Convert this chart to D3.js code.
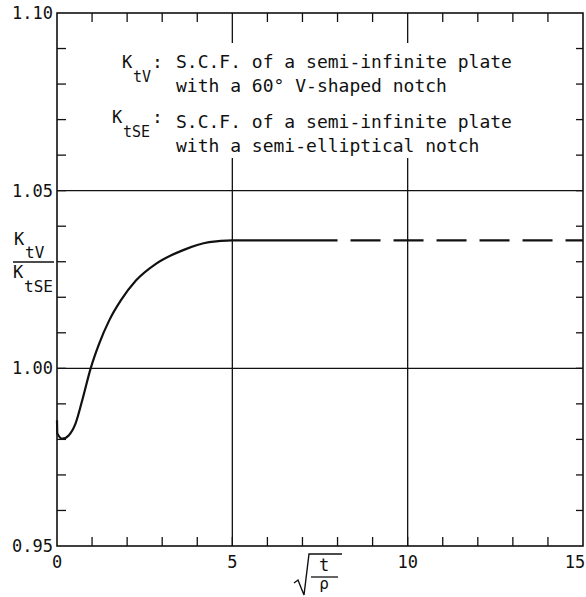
<!DOCTYPE html>
<html>
<head>
<meta charset="utf-8">
<script src="https://cdn.jsdelivr.net/npm/d3@7"></script>
<style>
  html, body { margin: 0; padding: 0; background: #fff; }
  svg { display: block; }
  text { font-family: "DejaVu Sans Mono", "Liberation Mono", monospace; fill: #111; }
</style>
</head>
<body>
<svg id="chart" width="586" height="597"></svg>
<script>
// ---- data ----
const xDomain = [0, 15];
const yDomain = [0.95, 1.10];
const xTickLabels = [0, 5, 10, 15];
const yTickLabels = [0.95, 1.00, 1.05, 1.10];
const xMinorTicks = [1, 2, 3, 4, 5, 6, 7, 8, 9, 10, 11, 12, 13, 14];
const yMinorTicks = [0.96, 0.97, 0.98, 0.99, 1.00, 1.01, 1.02, 1.03, 1.04, 1.05, 1.06, 1.07, 1.08, 1.09];
const gridX = [5, 10];
const gridY = [1.00, 1.05];
// solid computed curve
const curveX = [0, 0.01, 0.15, 0.34, 0.53, 0.72, 0.96, 1.2, 1.49, 1.82, 2.25, 2.82, 3.58, 4.34, 5.0, 6.5, 8.0];
const curveY = [0.9854, 0.9817, 0.9802, 0.9812, 0.9845, 0.991, 1.000, 1.0069, 1.0135, 1.0191, 1.0247, 1.0294, 1.0332, 1.0355, 1.036, 1.036, 1.036];
// dashed extrapolation
const dashX = [8.0, 15];
const dashY = [1.036, 1.036];

// ---- layout ----
const svg = d3.select("#chart");
const L = 57, R = 583, T = 13, B = 546;
const x = d3.scaleLinear().domain(xDomain).range([L, R]);
const y = d3.scaleLinear().domain(yDomain).range([B, T]);
const ink = "#111";

// frame
svg.append("rect").attr("x", L).attr("y", T).attr("width", R - L).attr("height", B - T)
  .attr("fill", "none").attr("stroke", ink).attr("stroke-width", 1.6);

// horizontal grid lines
svg.selectAll(".gy").data(gridY).enter().append("line")
  .attr("x1", L).attr("x2", R).attr("y1", d => y(d)).attr("y2", d => y(d))
  .attr("stroke", ink).attr("stroke-width", 1.3);

// vertical grid lines (interrupted by the legend)
svg.selectAll(".gx").data(gridX).enter().append("line")
  .attr("x1", d => x(d)).attr("x2", d => x(d)).attr("y1", 158).attr("y2", B)
  .attr("stroke", ink).attr("stroke-width", 1.3);

// minor ticks, inward
const tl = 9;
svg.selectAll(".tb").data(xMinorTicks).enter().append("line")
  .attr("x1", d => x(d)).attr("x2", d => x(d)).attr("y1", B).attr("y2", B - tl)
  .attr("stroke", ink).attr("stroke-width", 1.3);
svg.selectAll(".tt").data(xMinorTicks).enter().append("line")
  .attr("x1", d => x(d)).attr("x2", d => x(d)).attr("y1", T)
  .attr("y2", d => gridX.includes(d) ? T + 30 : T + tl)
  .attr("stroke", ink).attr("stroke-width", 1.3);
svg.selectAll(".tlft").data(yMinorTicks).enter().append("line")
  .attr("x1", L).attr("x2", L + tl).attr("y1", d => y(d)).attr("y2", d => y(d))
  .attr("stroke", ink).attr("stroke-width", 1.3);
svg.selectAll(".trgt").data(yMinorTicks).enter().append("line")
  .attr("x1", R).attr("x2", R - 7).attr("y1", d => y(d)).attr("y2", d => y(d))
  .attr("stroke", ink).attr("stroke-width", 1.3);

// tick labels
svg.selectAll(".yl").data(yTickLabels).enter().append("text")
  .attr("x", L - 4).attr("y", d => y(d)).attr("dy", "0.35em")
  .attr("text-anchor", "end").attr("font-size", 17)
  .text(d => d3.format(".2f")(d));
svg.selectAll(".xl").data(xTickLabels).enter().append("text")
  .attr("x", d => d === 15 ? x(d) - 8 : x(d)).attr("y", B + 22)
  .attr("text-anchor", "middle").attr("font-size", 17)
  .text(d => d);

// curves
const line = d3.line().x(d => x(d[0])).y(d => y(d[1])).curve(d3.curveMonotoneX);
svg.append("path").datum(d3.zip(curveX, curveY)).attr("d", line)
  .attr("fill", "none").attr("stroke", ink).attr("stroke-width", 2.2);
svg.append("path").datum(d3.zip(dashX, dashY)).attr("d", d3.line().x(d => x(d[0])).y(d => y(d[1])))
  .attr("fill", "none").attr("stroke", ink).attr("stroke-width", 2.2)
  .attr("stroke-dasharray", "30 13").attr("stroke-dashoffset", 30);

// legend
const lg = svg.append("g");
function sub(gx, gy, base, subs, colonX) {
  lg.append("text").attr("x", gx).attr("y", gy).attr("font-size", 17).text(base);
  lg.append("text").attr("x", gx + 11).attr("y", gy + 14).attr("font-size", 15).text(subs);
  lg.append("text").attr("x", colonX).attr("y", gy).attr("font-size", 18).text(":");
}
sub(122, 68, "K", "tV", 152);
lg.append("text").attr("x", 176).attr("y", 68).attr("font-size", 18).text("S.C.F. of a semi-infinite plate");
lg.append("text").attr("x", 176).attr("y", 92).attr("font-size", 18).text("with a 60° V-shaped notch");
sub(112, 123, "K", "tSE", 152);
lg.append("text").attr("x", 176).attr("y", 128).attr("font-size", 18).text("S.C.F. of a semi-infinite plate");
lg.append("text").attr("x", 176).attr("y", 152).attr("font-size", 18).text("with a semi-elliptical notch");

// y-axis title: K_tV / K_tSE
const yt = svg.append("g");
yt.append("text").attr("x", 14).attr("y", 245).attr("font-size", 17).text("K");
yt.append("text").attr("x", 25).attr("y", 258).attr("font-size", 16).text("tV");
yt.append("line").attr("x1", 13).attr("x2", 54).attr("y1", 262).attr("y2", 262)
  .attr("stroke", ink).attr("stroke-width", 1.3);
yt.append("text").attr("x", 13).attr("y", 278).attr("font-size", 17).text("K");
yt.append("text").attr("x", 24).attr("y", 292).attr("font-size", 16).text("tSE");

// x-axis title: sqrt(t / rho)
const xt = svg.append("g");
xt.append("path").attr("d", "M294,583 L298,580 L304,595 L309,554 L342,554")
  .attr("fill", "none").attr("stroke", ink).attr("stroke-width", 1.4);
xt.append("text").attr("x", 324).attr("y", 571).attr("text-anchor", "middle").attr("font-size", 17).text("t");
xt.append("line").attr("x1", 311).attr("x2", 338).attr("y1", 577).attr("y2", 577)
  .attr("stroke", ink).attr("stroke-width", 1.3);
xt.append("text").attr("x", 324).attr("y", 589).attr("text-anchor", "middle").attr("font-size", 16).text("ρ");
</script>
</body>
</html>
